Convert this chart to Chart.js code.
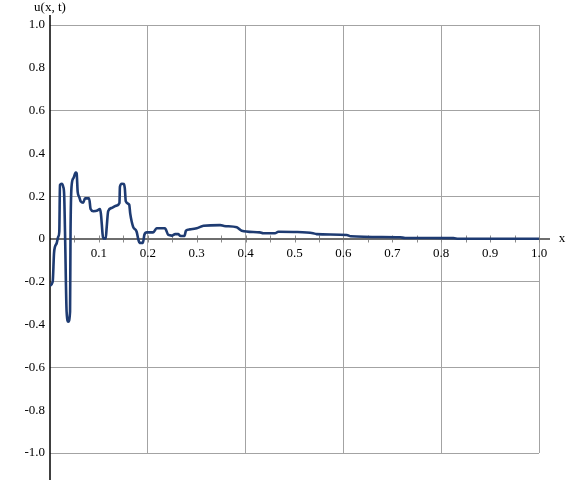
<!DOCTYPE html>
<html>
<head>
<meta charset="utf-8">
<script src="https://cdn.jsdelivr.net/npm/chart.js@4"></script>
<style>
  html, body { margin: 0; padding: 0; background: #fff; }
  #chart { display: block; }
</style>
</head>
<body>
<canvas id="chart" width="570" height="480"></canvas>
<script>
const xVals = [0, 0.0055, 0.0082, 0.0102, 0.0136, 0.017, 0.019, 0.0204, 0.024, 0.027,
  0.029, 0.0307, 0.034, 0.0374, 0.041, 0.042, 0.044, 0.048, 0.0525, 0.0545,
  0.0566, 0.06, 0.063, 0.068, 0.0716, 0.08, 0.083, 0.0886, 0.097, 0.102,
  0.104, 0.109, 0.114, 0.116, 0.119, 0.126, 0.136, 0.142, 0.143, 0.147,
  0.151, 0.153, 0.155, 0.162, 0.164, 0.17, 0.177, 0.181, 0.183, 0.19,
  0.193, 0.198, 0.211, 0.218, 0.235, 0.242, 0.249, 0.256, 0.262, 0.267,
  0.275, 0.278, 0.286, 0.3, 0.314, 0.348, 0.356, 0.382, 0.392, 0.429,
  0.436, 0.46, 0.467, 0.498, 0.538, 0.545, 0.607, 0.615, 0.716, 0.726,
  0.825, 0.835, 1.0];
const uVals = [-0.218, -0.2, -0.067, -0.036, -0.02, 0.011, 0.034, 0.252, 0.258, 0.244,
  0.206, 0.034, -0.34, -0.386, -0.34, 0.034, 0.244, 0.284, 0.31, 0.307,
  0.22, 0.195, 0.175, 0.17, 0.19, 0.19, 0.14, 0.13, 0.133, 0.14,
  0.12, 0.003, 0.003, 0.057, 0.13, 0.145, 0.156, 0.168, 0.244, 0.258,
  0.257, 0.237, 0.176, 0.16, 0.12, 0.057, 0.035, -0.005, -0.018, -0.018,
  0.02, 0.031, 0.031, 0.05, 0.05, 0.019, 0.016, 0.023, 0.023, 0.014,
  0.014, 0.039, 0.045, 0.05, 0.062, 0.065, 0.061, 0.055, 0.039, 0.031,
  0.027, 0.027, 0.034, 0.033, 0.027, 0.023, 0.019, 0.013, 0.008, 0.005,
  0.004, 0.001, 0.001];

// axis ranges / tick steps
const xRange = [0, 1];
const yRange = [-1, 1];
const xTickStep = 0.05;
const yTickStep = 0.2;
const xAxisTitle = "x";
const yAxisTitle = "u(x, t)";

const FONT = "'Liberation Serif', 'DejaVu Serif', serif";
const GRID = "#a3a3a3";

const points = xVals.map((x, i) => ({ x, y: uVals[i] }));

// axis lines through the origin, little cross ticks, titles
const axesPlugin = {
  id: "axes",
  beforeDatasetsDraw(chart) {
    const { ctx, chartArea, scales } = chart;
    const sx = scales.x, sy = scales.y;
    const y0 = sy.getPixelForValue(0);
    const x0 = sx.getPixelForValue(0);
    ctx.save();

    // tick marks across the x axis
    ctx.strokeStyle = "#8a8a8a";
    ctx.lineWidth = 1;
    sx.ticks.forEach(t => {
      if (Math.abs(t.value) < 1e-9) return;
      const px = Math.round(sx.getPixelForValue(t.value)) + 0.5;
      ctx.beginPath();
      ctx.moveTo(px, y0 - 3.5);
      ctx.lineTo(px, y0 + 3.5);
      ctx.stroke();
    });

    // x axis line, runs a bit past x = 1
    ctx.strokeStyle = "#6e6e6e";
    ctx.lineWidth = 2;
    ctx.beginPath();
    ctx.moveTo(x0, y0);
    ctx.lineTo(chartArea.right + 11, y0);
    ctx.stroke();

    // y axis line, runs past top and bottom
    ctx.strokeStyle = "#000";
    ctx.lineWidth = 1.5;
    ctx.beginPath();
    ctx.moveTo(x0, chartArea.top - 10);
    ctx.lineTo(x0, chart.height);
    ctx.stroke();

    ctx.fillStyle = "#000";
    ctx.font = "13px " + FONT;
    ctx.textAlign = "center";
    ctx.textBaseline = "middle";
    ctx.fillText(xAxisTitle, chartArea.right + 23, y0);
    ctx.textBaseline = "alphabetic";
    ctx.fillText(yAxisTitle, x0, chartArea.top - 14);
    ctx.restore();
  }
};

new Chart(document.getElementById("chart").getContext("2d"), {
  type: "line",
  data: {
    datasets: [{
      data: points,
      borderColor: "#1e3b72",
      borderWidth: 2.6,
      pointRadius: 0,
      fill: false,
      cubicInterpolationMode: "monotone"
    }]
  },
  options: {
    responsive: false,
    animation: false,
    events: [],
    layout: { padding: { left: 0, top: 25, right: 31, bottom: 27 } },
    plugins: { legend: { display: false }, tooltip: { enabled: false } },
    scales: {
      x: {
        type: "linear",
        position: { y: 0 },
        min: xRange[0], max: xRange[1],
        border: { display: false },
        grid: {
          drawTicks: false,
          lineWidth: 1,
          color: c => {
            const k = Math.round(c.tick.value / xTickStep);
            return (k !== 0 && k % 4 === 0) ? GRID : "rgba(0,0,0,0)";
          }
        },
        ticks: {
          stepSize: xTickStep,
          padding: 7,
          maxRotation: 0,
          autoSkip: false,
          color: "#000",
          font: { family: FONT, size: 13 },
          callback: v => {
            const k = Math.round(v / xTickStep);
            return (k !== 0 && k % 2 === 0) ? (v).toFixed(1) : "";
          }
        }
      },
      y: {
        type: "linear",
        position: "left",
        min: yRange[0], max: yRange[1],
        afterFit: s => { s.width = 50; },
        border: { display: false },
        grid: {
          drawTicks: false,
          lineWidth: 1,
          color: c => {
            const k = Math.round(c.tick.value / yTickStep);
            return (Math.abs(k) % 2 === 1) ? GRID : "rgba(0,0,0,0)";
          }
        },
        ticks: {
          stepSize: yTickStep,
          padding: 5,
          autoSkip: false,
          color: "#000",
          font: { family: FONT, size: 13 },
          callback: v => Math.abs(v) < 1e-9 ? "0" : v.toFixed(1)
        }
      }
    }
  },
  plugins: [axesPlugin]
});
</script>
</body>
</html>
